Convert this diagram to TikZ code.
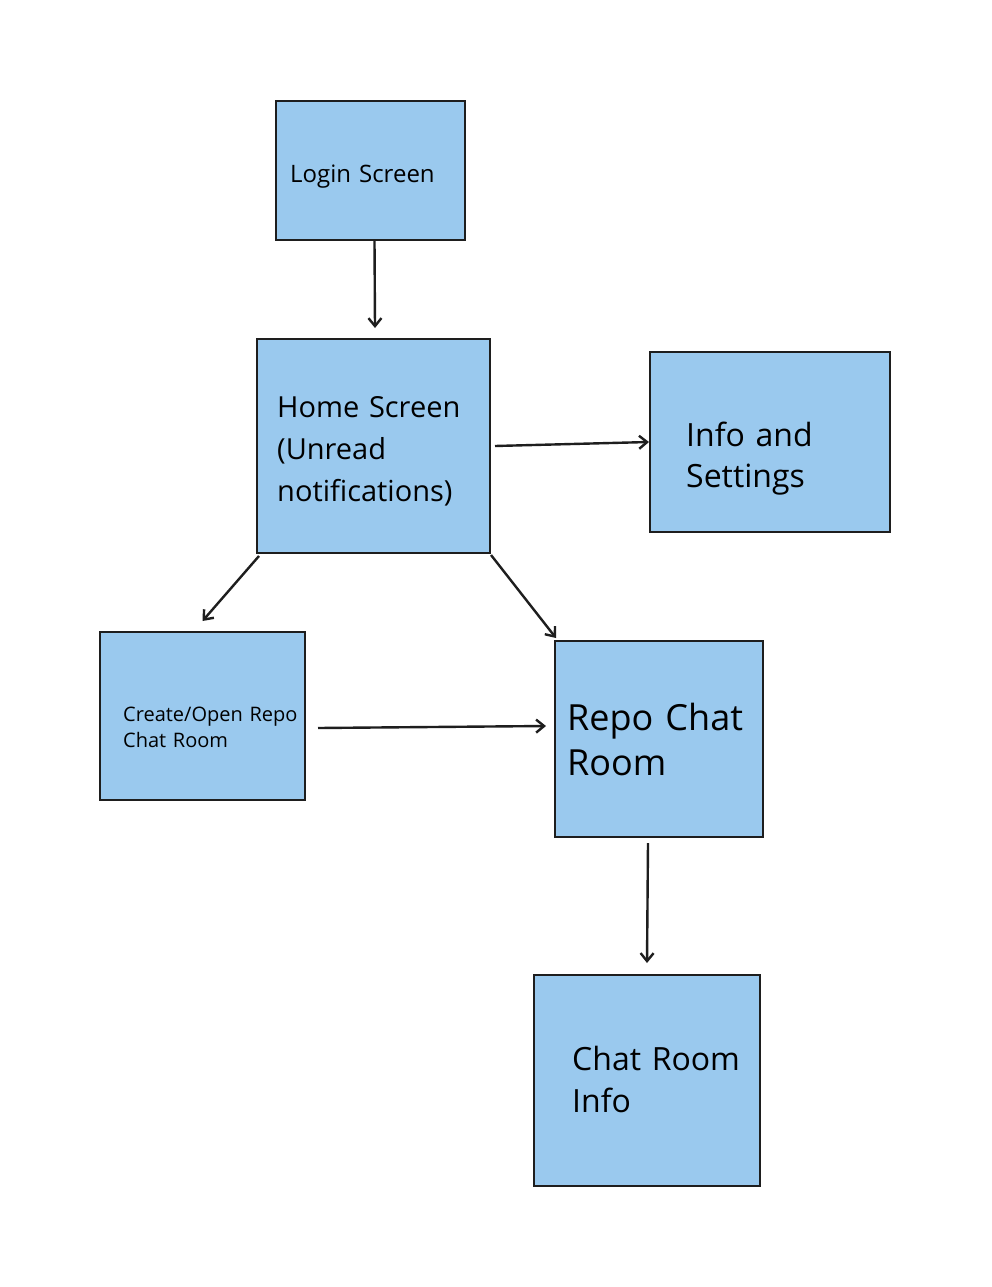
\documentclass[tikz,border=0pt]{standalone}
\usepackage{fontspec}
\setmainfont{Open Sans}
\usetikzlibrary{arrows.meta}

\definecolor{screenblue}{HTML}{9AC9EE}
\definecolor{inkgray}{HTML}{1E1E1E}

\tikzset{
  screen/.style={draw=inkgray, line width=2pt, fill=screenblue,
    rectangle, inner sep=0pt},
  caption/.style={anchor=base west, align=left, inner sep=0pt,
    text width=220pt, text=black},
  flow/.style={draw=inkgray, line width=2.4pt,
    -{Straight Barb[length=8pt,width=13pt]}}
}

\begin{document}
\begin{tikzpicture}[x=1pt,y=-1pt]
    \useasboundingbox[fill=white] (0,0) rectangle (991,1287);
    %% Draw the screens
    \node[screen, minimum width=189pt, minimum height=139pt] (login) at (370.5,170.5) {};
    \node[screen, minimum width=233pt, minimum height=214pt] (home) at (373.5,446) {};
    \node[screen, minimum width=240pt, minimum height=180pt] (info) at (770,442) {};
    \node[screen, minimum width=205pt, minimum height=168pt] (create) at (202.5,716) {};
    \node[screen, minimum width=208pt, minimum height=196pt] (repo) at (659,739) {};
    \node[screen, minimum width=226pt, minimum height=211pt] (roominfo) at (647,1080.5) {};
    %% Draw the screen names
    \node[caption, font=\fontsize{24}{30}\selectfont]
      (loginText) at ([shift={(15,82)}]login.north west) {Login Screen};
    \node[caption, font=\fontsize{29}{42}\selectfont]
      (homeText) at ([shift={(21,79)}]home.north west) {Home Screen\\(Unread\\notifications)};
    \node[caption, font=\fontsize{32}{41}\selectfont]
      (infoText) at ([shift={(37,95)}]info.north west) {Info and\\Settings};
    \node[caption, font=\fontsize{20}{26}\selectfont]
      (createText) at ([shift={(24,90)}]create.north west) {Create/Open Repo\\Chat Room};
    \node[caption, font=\fontsize{36}{45}\selectfont]
      (repoText) at ([shift={(13,90)}]repo.north west) {Repo Chat\\Room};
    \node[caption, font=\fontsize{32}{42}\selectfont]
      (roominfoText) at ([shift={(39,96)}]roominfo.north west) {Chat Room\\Info};
    %% Draw the transitions
    \draw[flow] ([xshift=4pt]login.south) -- ([xshift=1.5pt,yshift=10pt]home.north);
    \draw[flow] ([xshift=4pt]home.east) -- (info.west);
    \draw[flow] ([xshift=3pt,yshift=-2pt]home.south west) -- ([yshift=10pt]create.north);
    \draw[flow] ([yshift=-1pt]home.south east) -- ([xshift=2pt,yshift=2pt]repo.north west);
    \draw[flow] ([xshift=12pt,yshift=-12pt]create.east) -- ([xshift=-8pt,yshift=13pt]repo.west);
    \draw[flow] ([xshift=-11pt,yshift=-5pt]repo.south) -- ([yshift=11pt]roominfo.north);
\end{tikzpicture}
\end{document}
